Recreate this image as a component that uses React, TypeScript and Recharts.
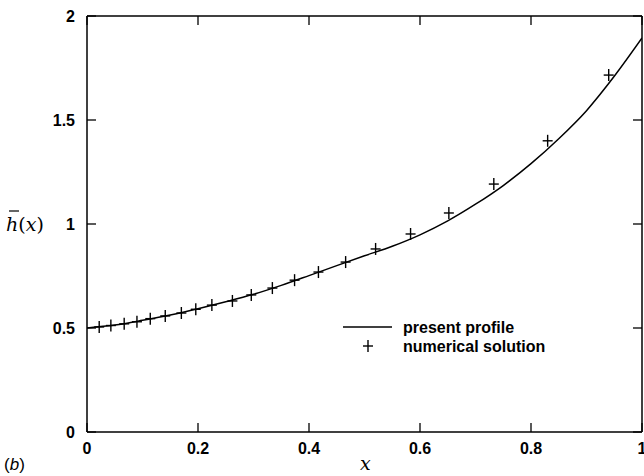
import { ComposedChart, Line, Scatter, XAxis, YAxis } from "recharts"

const xTicks = [0, 0.2, 0.4, 0.6, 0.8, 1]
const yTicks = [0, 0.5, 1, 1.5, 2]

// present profile
const profileX = [0, 0.05, 0.1, 0.15, 0.2, 0.25, 0.3, 0.35, 0.4, 0.45, 0.5, 0.55, 0.6, 0.65, 0.7, 0.75, 0.8, 0.85, 0.9, 0.95, 1]
const profileH = [0.5, 0.514, 0.537, 0.563, 0.593, 0.626, 0.662, 0.705, 0.752, 0.8, 0.847, 0.893, 0.948, 1.015, 1.095, 1.185, 1.29, 1.41, 1.545, 1.71, 1.894]

// numerical solution
const numX = [0.022, 0.043, 0.067, 0.09, 0.114, 0.141, 0.17, 0.196, 0.225, 0.262, 0.296, 0.334, 0.374, 0.417, 0.466, 0.52, 0.583, 0.652, 0.733, 0.83, 0.94]
const numH = [0.505, 0.512, 0.52, 0.53, 0.545, 0.558, 0.572, 0.59, 0.61, 0.63, 0.659, 0.692, 0.73, 0.769, 0.817, 0.88, 0.952, 1.053, 1.192, 1.4, 1.716]

const profile = profileX.map((x, i) => ({ x, h: profileH[i] }))
const numerical = numX.map((x, i) => ({ x, h: numH[i] }))

const tickFont = { fontFamily: "Liberation Sans, Arial, sans-serif", fontWeight: 700, fontSize: 16, fill: "#000" }
const TL = 9

const BottomTick = ({ x, y, payload }: any) => (
  <g>
    <line x1={x} y1={y} x2={x} y2={y - TL} stroke="#000" strokeWidth={1.3} />
    <text x={x} y={y + 22} textAnchor="middle" {...tickFont}>{String(payload.value)}</text>
  </g>
)
const TopTick = ({ x, y }: any) => <line x1={x} y1={y} x2={x} y2={y + TL} stroke="#000" strokeWidth={1.3} />
const LeftTick = ({ x, y, payload }: any) => (
  <g>
    <line x1={x} y1={y} x2={x + TL} y2={y} stroke="#000" strokeWidth={1.3} />
    <text x={x - 12} y={y + 6} textAnchor="end" {...tickFont}>{String(payload.value)}</text>
  </g>
)
const RightTick = ({ x, y }: any) => <line x1={x} y1={y} x2={x - TL} y2={y} stroke="#000" strokeWidth={1.3} />

const Plus = ({ cx, cy }: any) => (
  <g stroke="#000" strokeWidth={1.4}>
    <line x1={cx - 5} y1={cy} x2={cx + 5} y2={cy} />
    <line x1={cx} y1={cy - 6} x2={cx} y2={cy + 6} />
  </g>
)

export default function App() {
  return (
    <div style={{ position: "absolute", left: 0, top: 0, width: 644, height: 476, background: "#fff" }}>
      <ComposedChart width={644} height={476} margin={{ top: 0, right: 0, left: 0, bottom: 0 }}>
        <XAxis dataKey="x" type="number" domain={[0, 1]} ticks={xTicks} height={44}
          axisLine={{ stroke: "#000", strokeWidth: 1.5 }} tickLine={false} tickSize={0} tickMargin={0}
          tick={<BottomTick />} interval={0} allowDataOverflow />
        <XAxis xAxisId="top" orientation="top" dataKey="x" type="number" domain={[0, 1]} ticks={xTicks} height={16}
          axisLine={{ stroke: "#000", strokeWidth: 1.5 }} tickLine={false} tickSize={0} tickMargin={0}
          tick={<TopTick />} interval={0} allowDataOverflow />
        <YAxis type="number" domain={[0, 2]} ticks={yTicks} width={87}
          axisLine={{ stroke: "#000", strokeWidth: 1.5 }} tickLine={false} tickSize={0} tickMargin={0}
          tick={<LeftTick />} interval={0} allowDataOverflow />
        <YAxis yAxisId="right" orientation="right" type="number" domain={[0, 2]} ticks={yTicks} width={2}
          axisLine={{ stroke: "#000", strokeWidth: 1.5 }} tickLine={false} tickSize={0} tickMargin={0}
          tick={<RightTick />} interval={0} allowDataOverflow />
        <Line data={profile} dataKey="h" type="monotone" stroke="#000" strokeWidth={1.5} dot={false}
          isAnimationActive={false} name="present profile" />
        <Scatter data={numerical} dataKey="h" shape={<Plus />} isAnimationActive={false} name="numerical solution" />
      </ComposedChart>
      <svg width={644} height={476} style={{ position: "absolute", left: 0, top: 0, pointerEvents: "none" }}>
        {/* legend */}
        <g transform="translate(343,318)">
          <line x1={0} y1={9} x2={49} y2={9} stroke="#000" strokeWidth={1.4} />
          <text x={60} y={15} {...tickFont}>present profile</text>
          <line x1={20} y1={28} x2={30} y2={28} stroke="#000" strokeWidth={1.4} />
          <line x1={25} y1={22} x2={25} y2={34} stroke="#000" strokeWidth={1.4} />
          <text x={60} y={34} {...tickFont}>numerical solution</text>
        </g>
        <text x={6} y={231} fontFamily="DejaVu Serif, serif" fontSize={19} fill="#000">
          <tspan fontStyle="italic">h</tspan>
          <tspan>(</tspan>
          <tspan fontStyle="italic">x</tspan>
          <tspan>)</tspan>
        </text>
        <line x1={9} y1={211} x2={19} y2={211} stroke="#000" strokeWidth={1.2} />
        <text x={360} y={470} fontFamily="DejaVu Serif, serif" fontStyle="italic" fontSize={19} fill="#000">x</text>
        <text x={4} y={470} fontFamily="Liberation Sans, Arial, sans-serif" fontSize={17} fill="#000">
          <tspan>(</tspan>
          <tspan fontStyle="italic">b</tspan>
          <tspan>)</tspan>
        </text>
      </svg>
    </div>
  )
}
